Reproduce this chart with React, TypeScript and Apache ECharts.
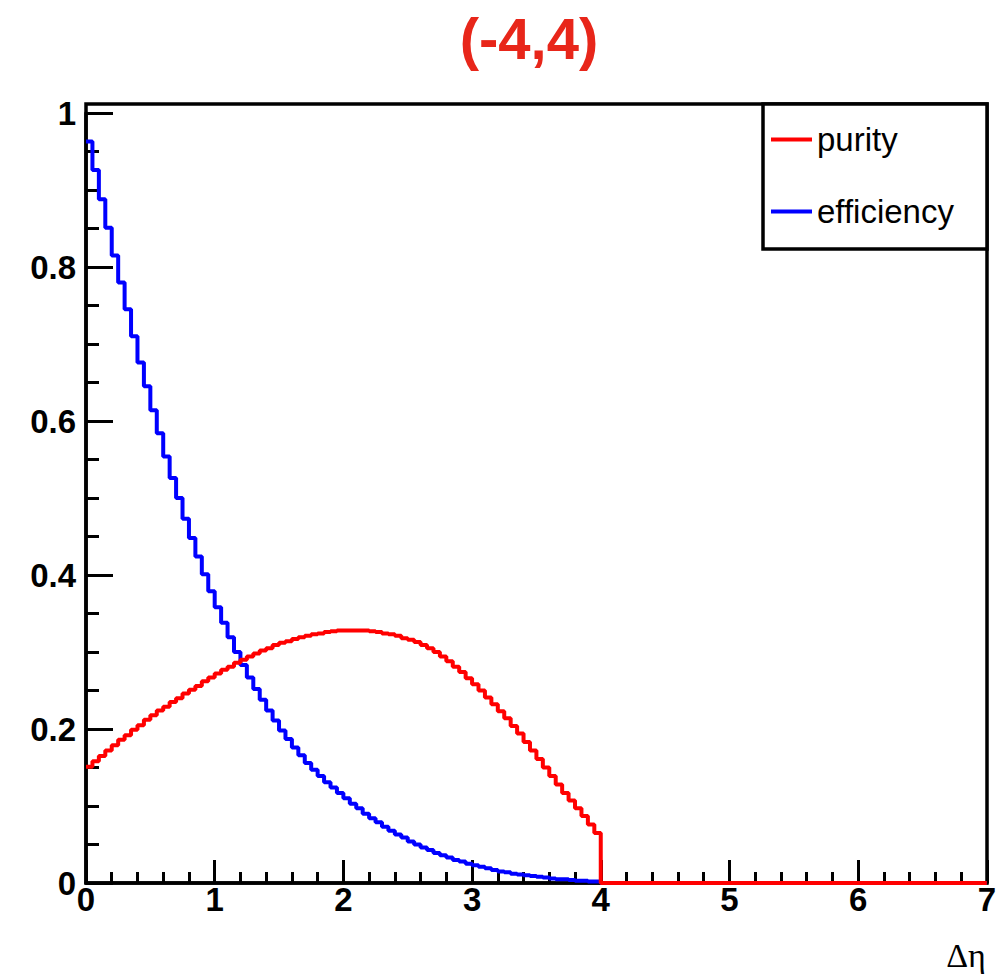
import { useEffect, useRef } from "react";
import * as echarts from "echarts";

// Histogram binning: 0.05 wide bins over 0 .. 7 in Δη
const BIN_WIDTH = 0.05;
const X_MIN = 0;
const X_MAX = 7;
const Y_MIN = 0;
const Y_MAX = 1;

// Bin contents for 0 .. 4; bins above 4 are empty
const purity = [
  0.151, 0.158, 0.165, 0.172, 0.179, 0.186, 0.192, 0.199, 0.205, 0.212,
  0.218, 0.224, 0.229, 0.235, 0.24, 0.246, 0.251, 0.256, 0.262, 0.267,
  0.272, 0.277, 0.281, 0.286, 0.29, 0.294, 0.298, 0.302, 0.305, 0.309,
  0.312, 0.314, 0.317, 0.319, 0.321, 0.323, 0.324, 0.326, 0.327, 0.328,
  0.328, 0.328, 0.328, 0.328, 0.327, 0.326, 0.324, 0.323, 0.321, 0.318,
  0.316, 0.313, 0.309, 0.305, 0.3, 0.294, 0.288, 0.281, 0.274, 0.266,
  0.258, 0.25, 0.241, 0.232, 0.223, 0.214, 0.204, 0.194, 0.183, 0.172,
  0.161, 0.15, 0.139, 0.128, 0.117, 0.107, 0.097, 0.087, 0.076, 0.065,
];

const efficiency = [
  0.963, 0.926, 0.888, 0.851, 0.815, 0.78, 0.745, 0.71, 0.676, 0.645,
  0.614, 0.584, 0.554, 0.526, 0.5, 0.473, 0.448, 0.424, 0.401, 0.379,
  0.358, 0.338, 0.319, 0.3, 0.283, 0.267, 0.252, 0.238, 0.224, 0.211,
  0.198, 0.187, 0.176, 0.166, 0.156, 0.147, 0.139, 0.131, 0.124, 0.117,
  0.11, 0.103, 0.097, 0.09, 0.084, 0.079, 0.073, 0.068, 0.063, 0.059,
  0.054, 0.05, 0.046, 0.043, 0.039, 0.036, 0.033, 0.03, 0.028, 0.025,
  0.023, 0.021, 0.019, 0.017, 0.015, 0.014, 0.012, 0.011, 0.01, 0.009,
  0.008, 0.007, 0.006, 0.005, 0.005, 0.004, 0.003, 0.003, 0.002, 0.002,
];

const seriesNames = ["purity", "efficiency"];
const seriesColors = ["#ff0000", "#0000ff"];
const chartTitle = "(-4,4)";
const xAxisTitle = "Δη";

const SANS = '"Liberation Sans", Arial, Helvetica, sans-serif';
const SERIF = '"Liberation Serif", "Times New Roman", "DejaVu Serif", serif';

// Turn bin contents into left-edge points for a step line
function histogramPoints(contents: number[]): [number, number][] {
  const nBins = Math.round((X_MAX - X_MIN) / BIN_WIDTH);
  const pts: [number, number][] = [];
  for (let i = 0; i < nBins; i++) {
    const x = +(X_MIN + i * BIN_WIDTH).toFixed(4);
    pts.push([x, i < contents.length ? contents[i] : 0]);
  }
  pts.push([X_MAX, 0]);
  return pts;
}

export default function App() {
  const ref = useRef<HTMLDivElement>(null);

  useEffect(() => {
    if (!ref.current) return;
    const chart = echarts.init(ref.current, null, { renderer: "svg" });

    const axisColor = "#000";
    const option: echarts.EChartsOption = {
      animation: false,
      backgroundColor: "#fff",
      grid: { left: 86, right: 12, top: 113, bottom: 93, show: false },
      xAxis: {
        type: "value",
        min: X_MIN,
        max: X_MAX,
        interval: 1,
        name: xAxisTitle,
        nameLocation: "end",
        nameGap: -1,
        nameTextStyle: {
          fontFamily: SERIF,
          fontSize: 34,
          color: "#000",
          align: "right",
          verticalAlign: "top",
          padding: [55, 0, 0, 0],
        },
        axisLine: { show: true, onZero: false, lineStyle: { color: axisColor, width: 3.5 } },
        axisTick: { show: true, inside: true, length: 23, lineStyle: { color: axisColor, width: 3 } },
        minorTick: { show: true, splitNumber: 5, length: 11, lineStyle: { color: axisColor, width: 3 } },
        splitLine: { show: false },
        axisLabel: {
          fontFamily: SANS,
          fontSize: 33,
          fontWeight: "bold",
          color: "#000",
          margin: 0,
        },
      },
      yAxis: {
        type: "value",
        min: Y_MIN,
        max: Y_MAX,
        interval: 0.2,
        axisLine: { show: true, onZero: false, lineStyle: { color: axisColor, width: 3.5 } },
        axisTick: { show: true, inside: true, length: 27, lineStyle: { color: axisColor, width: 3 } },
        minorTick: { show: true, splitNumber: 4, length: 13, lineStyle: { color: axisColor, width: 3 } },
        splitLine: { show: false },
        axisLabel: {
          fontFamily: SANS,
          fontSize: 33,
          fontWeight: "bold",
          color: "#000",
          margin: 10,
        },
      },
      legend: {
        data: seriesNames,
        orient: "vertical",
        left: 771,
        top: 123,
        padding: 0,
        itemGap: 39,
        itemWidth: 41,
        itemHeight: 4,
        icon: "rect",
        selectedMode: false,
        z: 6,
        textStyle: { fontFamily: SANS, fontSize: 33, lineHeight: 33, color: "#000" },
      },
      graphic: [
        {
          type: "rect",
          z: 1,
          shape: { x: 86, y: 104, width: 901, height: 779 },
          style: { fill: "none", stroke: "#000", lineWidth: 3.5 },
          silent: true,
        },
        {
          type: "rect",
          z: 5,
          shape: { x: 763, y: 104, width: 224, height: 145 },
          style: { fill: "#fff", stroke: "#000", lineWidth: 3.5 },
          silent: true,
        },
        {
          type: "text",
          x: 529,
          y: 38,
          style: {
            text: chartTitle,
            fill: "#e8261a",
            fontFamily: SANS,
            fontSize: 58,
            fontWeight: "bold",
            align: "center",
            verticalAlign: "middle",
          },
        },
      ],
      series: [
        {
          name: seriesNames[1],
          type: "line",
          step: "end",
          showSymbol: false,
          symbol: "none",
          data: histogramPoints(efficiency),
          color: seriesColors[1],
          itemStyle: { color: seriesColors[1] },
          lineStyle: { color: seriesColors[1], width: 4 },
          z: 3,
        },
        {
          name: seriesNames[0],
          type: "line",
          step: "end",
          showSymbol: false,
          symbol: "none",
          data: histogramPoints(purity),
          color: seriesColors[0],
          itemStyle: { color: seriesColors[0] },
          lineStyle: { color: seriesColors[0], width: 4 },
          z: 4,
        },
      ],
    };

    chart.setOption(option);
    return () => chart.dispose();
  }, []);

  return (
    <div
      ref={ref}
      style={{ position: "fixed", left: 0, top: 0, width: 999, height: 976 }}
    />
  );
}
